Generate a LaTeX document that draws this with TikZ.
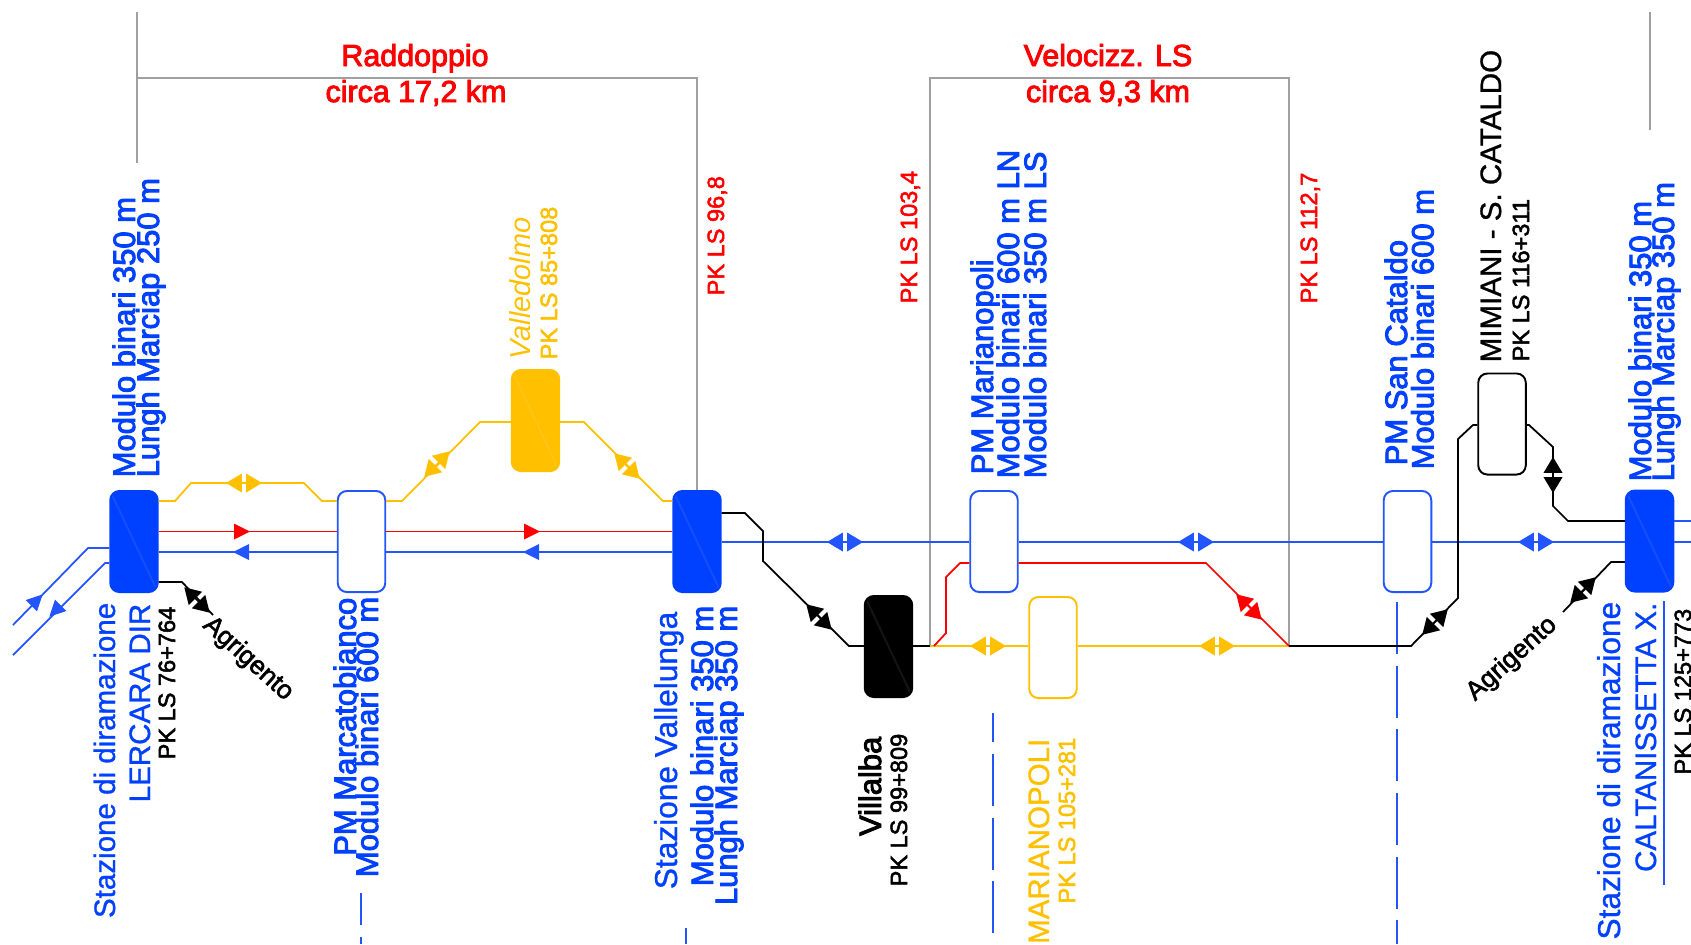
\documentclass[tikz,border=0pt]{standalone}
\usepackage{fontspec}
\usepackage{xcolor}
\usepackage{tikz}
\usetikzlibrary{arrows.meta}
\setmainfont{Liberation Sans}
\newfontfamily\heavyfont[FakeBold=3]{Liberation Sans}
\newfontfamily\semifont[FakeBold=2.2]{Liberation Sans}
\newfontfamily\midfont[FakeBold=1]{Liberation Sans}
\definecolor{lineblue}{RGB}{35,85,255}
\definecolor{fillblue}{RGB}{0,64,255}
\definecolor{lineyellow}{RGB}{255,192,0}
\definecolor{linered}{RGB}{255,0,0}
\definecolor{linegrey}{RGB}{160,160,160}
\tikzset{
  station/.style={rounded corners=2.6pt, line width=0.55pt, minimum width=0.475cm, minimum height=1.01cm, inner sep=0pt,
    path picture={\draw[white,opacity=0.08] (path picture bounding box.north west) -- (path picture bounding box.south east);}},
  lblup/.style={rotate=90, anchor=base west, inner sep=0pt},
  lbldn/.style={rotate=90, anchor=base east, inner sep=0pt},
  heavy/.style={font=\heavyfont\fontsize{8.8}{9}\selectfont},
  title/.style={font=\heavyfont\fontsize{8.65}{9}\selectfont, linered, inner sep=0pt, anchor=base},
  plain/.style={font=\midfont\fontsize{8.4}{9}\selectfont},
  small/.style={font=\semifont\fontsize{6.7}{7}\selectfont},
  track/.style={line width=0.5pt},
  limit/.style={line width=0.5pt, linegrey},
  axis/.style={line width=0.5pt, lineblue, dash pattern=on 14.8pt off 3.3pt},
  twotips/.pic={\draw[line width=0.4pt, {Triangle[length=4.5pt,width=5.3pt]}-{Triangle[length=4.5pt,width=5.3pt]}] (-18,0) -- (18,0);},
  onetip/.pic={\fill (-8,-8) -- (8,0) -- (-8,8) -- cycle;}
}
\begin{document}
\begin{tikzpicture}[x=0.01cm,y=-0.01cm]
  \useasboundingbox (0,0) rectangle (1691,944);
  % stations
  \node[station, draw=fillblue, fill=fillblue] (lercara) at (134,541.5) {};
  \node[station, draw=lineblue, fill=white] (marcatobianco) at (361.5,541.5) {};
  \node[station, draw=lineyellow, fill=lineyellow] (valledolmo) at (535.5,420.5) {};
  \node[station, draw=fillblue, fill=fillblue] (vallelunga) at (697,541.5) {};
  \node[station, draw=black, fill=black] (villalba) at (888.5,646.5) {};
  \node[station, draw=lineblue, fill=white] (marianopoli) at (994,541.5) {};
  \node[station, draw=lineyellow, fill=white] (marianopolils) at (1053,647.5) {};
  \node[station, draw=lineblue, fill=white] (sancataldo) at (1407.5,541.5) {};
  \node[station, draw=black, fill=white] (mimiani) at (1502,424) {};
  \node[station, draw=fillblue, fill=fillblue] (caltanissetta) at (1649.5,541) {};
  \coordinate (velstart) at (930,646);
  \coordinate (velend) at (1289,646);
  % limits
  \draw[limit] (137,12) -- (137,163);
  \draw[limit] (137,78) -- (697,78) -- (vallelunga.north);
  \draw[limit] (velstart) -- (930,78) -- (1289,78) -- (velend);
  \draw[limit] (1650,12) -- (1650,130);
  % axes
  \draw[axis] (361,893) -- (361,925);
  \draw[axis] (361,937) -- (361,944);
  \draw[axis] (686,928) -- (686,944);
  \draw[axis] (993,713) -- (993,742);
  \draw[axis] (993,754) -- (993,944);
  \draw[axis] (1397,602) -- (1397,944);
  \draw[line width=0.5pt, lineblue] (1664,601) -- (1664,885);
  % yellow line
  \draw[track, lineyellow] (lercara.east |- 0,501) -- (175,501) -- (191,483) -- (304,483) -- (322,501) -- (marcatobianco.west |- 0,501);
  \draw[track, lineyellow] (marcatobianco.east |- 0,501) -- (402,501) -- (480,422) -- (valledolmo.west |- 0,422);
  \draw[track, lineyellow] (valledolmo.east |- 0,422) -- (584,422) -- (663,501) -- (vallelunga.west |- 0,501);
  \draw[track, lineyellow] (velstart) -- (marianopolils.west |- velstart);
  \draw[track, lineyellow] (marianopolils.east |- velend) -- (velend);
  % double track
  \draw[track, linered] (lercara.east |- 0,531.5) -- (marcatobianco.west |- 0,531.5);
  \draw[track, linered] (marcatobianco.east |- 0,531.5) -- (vallelunga.west |- 0,531.5);
  \draw[track, lineblue] (lercara.east |- 0,552) -- (marcatobianco.west |- 0,552);
  \draw[track, lineblue] (marcatobianco.east |- 0,552) -- (vallelunga.west |- 0,552);
  \draw[track, lineblue] (lercara.west |- 0,548) -- (88,548) -- (13,625);
  \draw[track, lineblue] (lercara.west |- 0,563) -- (105,563) -- (13,655);
  % single track
  \draw[track, lineblue] (vallelunga.east |- 0,542) -- (marianopoli.west |- 0,542);
  \draw[track, lineblue] (marianopoli.east |- 0,542) -- (sancataldo.west |- 0,542);
  \draw[track, lineblue] (sancataldo.east |- 0,542) -- (caltanissetta.west |- 0,542);
  \draw[track, lineblue] (caltanissetta.east |- 0,542) -- (1691,542);
  \draw[track, lineblue] (caltanissetta.east |- 0,521) -- (1691,521);
  \draw[track, linered] (velstart) ++(4,0) -- (946,633) -- (946,577) -- (960,563) -- (marianopoli.west |- 0,563);
  \draw[track, linered] (marianopoli.east |- 0,563) -- (1206,563) -- (velend);
  % black line
  \draw[track] (lercara.east |- 0,582) -- (182,582) -- (213,615);
  \draw[track] (vallelunga.east |- 0,513) -- (745,513) -- (763,531) -- (763,561) -- (849,646) -- (villalba.west |- 0,646);
  \draw[track] (villalba.east |- 0,646) -- (velstart);
  \draw[track] (velend) -- (1411,646) -- (1458,598) -- (1458,439) -- (1473,425) -- (mimiani.west |- 0,425);
  \draw[track] (mimiani.east |- 0,425) -- (1529,425) -- (1553,447) -- (1553,506) -- (1568,521) -- (caltanissetta.west |- 0,521);
  \draw[track] (caltanissetta.west |- 0,562) -- (1611,562) -- (1563,612);
  % tips
  \pic[lineyellow] at (244,483) {twotips};
  \pic[lineyellow, rotate=45] at (437,464) {twotips};
  \pic[lineyellow, rotate=-45] at (627,466) {twotips};
  \pic[lineyellow] at (988,646) {twotips};
  \pic[lineyellow] at (1217,646) {twotips};
  \pic[lineblue] at (845,542) {twotips};
  \pic[lineblue] at (1196,542) {twotips};
  \pic[lineblue] at (1536,542) {twotips};
  \pic[linered, rotate=-45] at (1249,607) {twotips};
  \pic[black, rotate=-45] at (197,600) {twotips};
  \pic[black, rotate=-45] at (819,617) {twotips};
  \pic[black, rotate=45] at (1435,622) {twotips};
  \pic[black, rotate=90] at (1553,475) {twotips};
  \pic[black, rotate=45] at (1583,590) {twotips};
  \pic[linered] at (242,531.5) {onetip};
  \pic[linered] at (532,531.5) {onetip};
  \pic[lineblue, rotate=180] at (241,552) {onetip};
  \pic[lineblue, rotate=180] at (531,552) {onetip};
  \pic[lineblue, rotate=45] at (37,600) {onetip};
  \pic[lineblue, rotate=225] at (55,611) {onetip};
  % headings
  \node[title] (raddtitle) at (415,66) {Raddoppio};
  \node[title] (raddkm) at (416,102) {circa 17,2 km};
  \node[title] (veltitle) at (1108,66) {Velocizz. LS};
  \node[title] (velkm) at (1108,102) {circa 9,3 km};
  \node[small, lblup, linered] (pk968) at (724,296) {PK LS 96,8};
  \node[small, lblup, linered] (pk1034) at (917,304) {PK LS 103,4};
  \node[small, lblup, linered] (pk1127) at (1317,304) {PK LS 112,7};
  % labels above
  \node[heavy, lblup, fillblue] (lermod) at (135,478) {Modulo binari 350 m};
  \node[heavy, lblup, fillblue] (lerlen) at (159,478) {Lungh Marciap 250 m};
  \node[lblup, lineyellow, font=\fontsize{8.2}{9}\selectfont\itshape] (valname) at (530,360) {Valledolmo};
  \node[small, lblup, lineyellow] (valpk) at (557,360) {PK LS 85+808};
  \node[heavy, lblup, fillblue] (marname) at (993,475) {PM Marianopoli};
  \node[heavy, lblup, fillblue] (marln) at (1019,479) {Modulo binari 600 m LN};
  \node[heavy, lblup, fillblue] (marls) at (1046,479) {Modulo binari 350 m LS};
  \node[heavy, lblup, fillblue] (sanname) at (1407,466) {PM San Cataldo};
  \node[heavy, lblup, fillblue] (sanmod) at (1433.5,470) {Modulo binari 600 m};
  \node[plain, lblup] (mimname) at (1501,363) {MIMIANI - S. CATALDO};
  \node[small, lblup] (mimpk) at (1529,362) {PK LS 116+311};
  \node[heavy, lblup, fillblue] (calmod) at (1651,482) {Modulo binari 350 m};
  \node[heavy, lblup, fillblue] (callen) at (1674,482) {Lungh Marciap 350 m};
  % labels below
  \node[plain, lbldn, fillblue] (lername) at (115,602) {Stazione di diramazione};
  \node[plain, lbldn, fillblue] (lerdir) at (150,603) {LERCARA DIR};
  \node[small, lbldn] (lerpk) at (175,606) {PK LS 76+764};
  \node[heavy, lbldn, fillblue] (bianame) at (356,597) {PM Marcatobianco};
  \node[heavy, lbldn, fillblue] (biamod) at (378,596) {Modulo binari 600 m};
  \node[lbldn, fillblue, font=\midfont\fontsize{9}{9}\selectfont] (lunname) at (677,611) {Stazione Vallelunga};
  \node[heavy, lbldn, fillblue] (lunmod) at (713,605) {Modulo binari 350 m};
  \node[heavy, lbldn, fillblue] (lunlen) at (737,605) {Lungh Marciap 350 m};
  \node[heavy, lbldn] (vilname) at (881,736) {Villalba};
  \node[small, lbldn] (vilpk) at (907,733) {PK LS 99+809};
  \node[plain, lbldn, lineyellow] (mlsname) at (1049,738) {MARIANOPOLI};
  \node[small, lbldn, lineyellow] (mlspk) at (1075,737) {PK LS 105+281};
  \node[lbldn, fillblue, font=\midfont\fontsize{9}{9}\selectfont] (calname) at (1620,601) {Stazione di diramazione};
  \node[plain, lbldn, fillblue] (calx) at (1656,602) {CALTANISSETTA X.};
  \node[small, lbldn] (calpk) at (1691,608) {PK LS 125+773};
  % branch names
  \node[font=\semifont\fontsize{7.4}{8}\selectfont, rotate=-42, inner sep=0pt] (agrileft) at (248,659) {Agrigento};
  \node[font=\semifont\fontsize{7.4}{8}\selectfont, rotate=42, inner sep=0pt] (agriright) at (1512,659) {Agrigento};
\end{tikzpicture}
\end{document}
